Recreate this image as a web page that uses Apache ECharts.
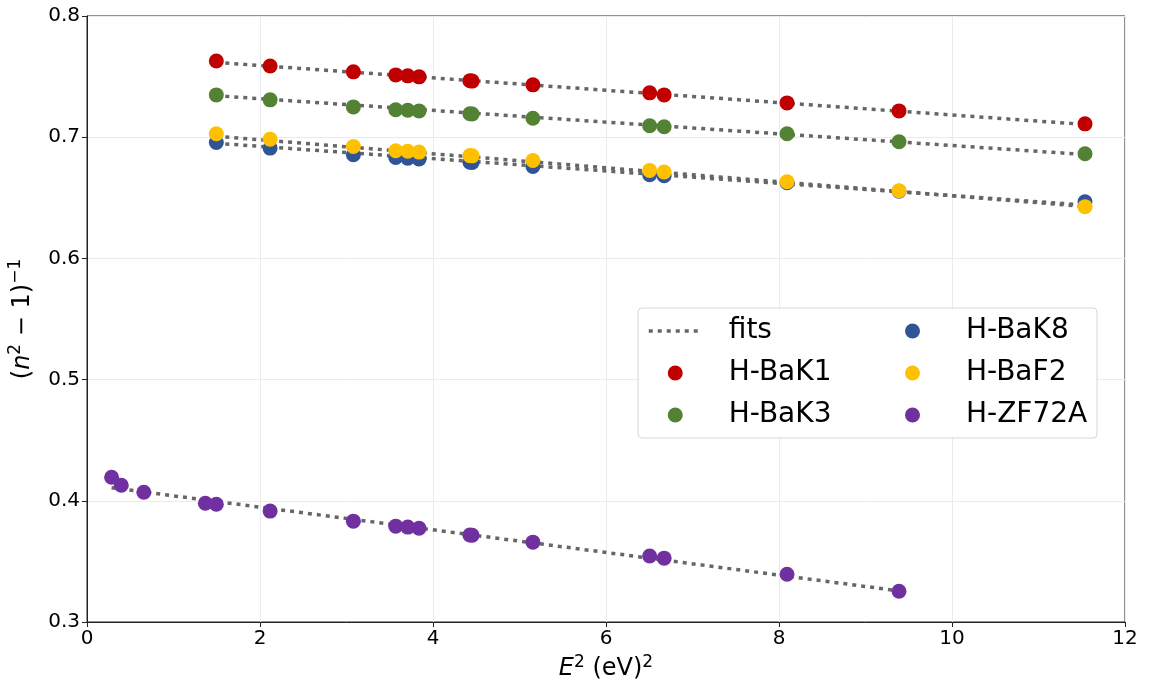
<!DOCTYPE html>
<html>
<head>
<meta charset="utf-8">
<script src="https://cdn.jsdelivr.net/npm/echarts@6/dist/echarts.min.js"></script>
<style>
  html, body { margin: 0; padding: 0; background: #fff; }
  #chart { width: 1155px; height: 685px; }
</style>
</head>
<body>
<div id="chart"></div>
<script>
// E^2 (eV)^2 of the measured lines
const eSq = [1.4951, 2.1171, 3.0795, 3.5692, 3.7082, 3.8388, 4.4266, 4.4527, 5.1551, 6.5047, 6.6722, 8.0928, 9.3875, 11.5378];
const eSqZF = [0.2843, 0.3961, 0.6570, 1.3681, 1.4951, 2.1171, 3.0795, 3.5692, 3.7082, 3.8388, 4.4266, 4.4527, 5.1551, 6.5047, 6.6722, 8.0928, 9.3875];

// (n^2 - 1)^-1 values per glass
const bak1 = [0.7629, 0.7588, 0.7539, 0.7514, 0.7506, 0.7498, 0.7466, 0.7463, 0.7432, 0.7366, 0.7349, 0.7283, 0.7217, 0.7110];
const bak3 = [0.7349, 0.7308, 0.7250, 0.7226, 0.7222, 0.7217, 0.7194, 0.7192, 0.7156, 0.7094, 0.7086, 0.7028, 0.6962, 0.6863];
const bak8 = [0.6956, 0.6910, 0.6855, 0.6833, 0.6826, 0.6820, 0.6793, 0.6791, 0.6759, 0.6690, 0.6682, 0.6624, 0.6554, 0.6468];
const baf2 = [0.7028, 0.6984, 0.6923, 0.6888, 0.6884, 0.6877, 0.6848, 0.6846, 0.6808, 0.6726, 0.6713, 0.6633, 0.6558, 0.6427];
const zf72a = [0.4194, 0.4128, 0.4071, 0.3980, 0.3972, 0.3915, 0.3832, 0.3791, 0.3783, 0.3774, 0.3718, 0.3716, 0.3659, 0.3544, 0.3527, 0.3394, 0.3254];

// fit line end points
const fitBak1 = [[1.4951, 0.7617], [11.5378, 0.7105]];
const fitBak3 = [[1.4951, 0.7342], [11.5378, 0.6857]];
const fitBak8 = [[1.4951, 0.6950], [11.5378, 0.6440]];
const fitBaf2 = [[1.4951, 0.7008], [11.5378, 0.6428]];
const fitZf72a = [[0.2843, 0.4108], [9.3875, 0.3257]];

const names = ['H-BaK1', 'H-BaK3', 'H-BaK8', 'H-BaF2', 'H-ZF72A'];
const colors = ['#c00000', '#548235', '#2f5597', '#ffc000', '#7030a0'];

function pairs(xs, ys) {
  return xs.map((x, i) => [x, ys[i]]);
}

const pts = [pairs(eSq, bak1), pairs(eSq, bak3), pairs(eSq, bak8), pairs(eSq, baf2), pairs(eSqZF, zf72a)];
const fits = [fitBak1, fitBak3, fitBak8, fitBaf2, fitZf72a];

const font = 'DejaVu Sans';
let series = [];
fits.forEach(f => {
  series.push({
    name: 'fits',
    type: 'line',
    data: f,
    symbol: 'none',
    z: 2,
    lineStyle: { color: '#666', width: 3.5, type: [4, 5], cap: 'butt' },
    // transparent item colour hides the circle ECharts puts on the legend line
    itemStyle: { color: 'rgba(0,0,0,0)' }
  });
});
pts.forEach((p, i) => {
  series.push({
    name: names[i],
    type: 'scatter',
    data: p,
    symbolSize: 15,
    z: 3,
    itemStyle: { color: colors[i], opacity: 1 }
  });
});

const legendText = {
  fontFamily: font, fontSize: 28, color: '#000', lineHeight: 30,
  rich: { s: { width: 22, fontSize: 28 } }
};

// axis name rich styles: italic symbol and raised superscripts
const nameStyle = {
  fontFamily: font, fontSize: 24, color: '#000', lineHeight: 30,
  rich: {
    i: { fontStyle: 'italic', fontSize: 24, fontFamily: font, lineHeight: 30, color: '#000' },
    s: { fontSize: 17, fontFamily: font, verticalAlign: 'top', lineHeight: 17, color: '#000' }
  }
};

let chart = echarts.init(document.getElementById('chart'));
chart.setOption({
  animation: false,
  textStyle: { fontFamily: font },
  grid: {
    left: 87, right: 30, top: 16, bottom: 63,
    outerBoundsMode: 'none',
    show: true, borderColor: '#222', borderWidth: 1, backgroundColor: 'transparent'
  },
  xAxis: {
    type: 'value', min: 0, max: 12, interval: 2,
    name: '{i|E}{s|2} (eV){s|2}',
    nameLocation: 'middle', nameGap: 21,
    nameTextStyle: nameStyle,
    axisLine: { lineStyle: { color: '#222', width: 1 } },
    axisTick: { length: 5, lineStyle: { color: '#222' } },
    axisLabel: { fontSize: 20, color: '#000', margin: 7 },
    splitLine: { lineStyle: { color: '#ebebeb' } }
  },
  yAxis: {
    type: 'value', min: 0.3, max: 0.8, interval: 0.1,
    name: '({i|n}{s|2} − 1){s|−1}',
    nameLocation: 'middle', nameGap: 43, nameRotate: 90,
    nameTextStyle: nameStyle,
    axisLine: { show: true, lineStyle: { color: '#222', width: 1 } },
    axisTick: { show: true, length: 5, lineStyle: { color: '#222' } },
    axisLabel: { fontSize: 20, color: '#000', margin: 7, formatter: v => v.toFixed(1) },
    splitLine: { lineStyle: { color: '#ebebeb' } }
  },
  graphic: [{
    type: 'rect', z: 90,
    shape: { x: 638, y: 308, width: 459, height: 130, r: 4 },
    style: { fill: 'rgba(255,255,255,0.9)', stroke: '#d6d6d6', lineWidth: 1 }
  }],
  legend: [{
    data: ['fits', 'H-BaK1', 'H-BaK3'],
    orient: 'vertical', left: 642, top: 311, z: 100,
    itemWidth: 53, itemHeight: 15, itemGap: 12,
    lineStyle: { width: 3.5, type: [4, 5], color: '#666' },
    formatter: n => '{s| }' + n,
    textStyle: legendText
  }, {
    data: ['H-BaK8', 'H-BaF2', 'H-ZF72A'],
    orient: 'vertical', left: 900, top: 311, z: 100,
    itemWidth: 53, itemHeight: 15, itemGap: 12,
    formatter: n => '{s| }' + n,
    textStyle: legendText
  }],
  series: series
});
</script>
</body>
</html>
